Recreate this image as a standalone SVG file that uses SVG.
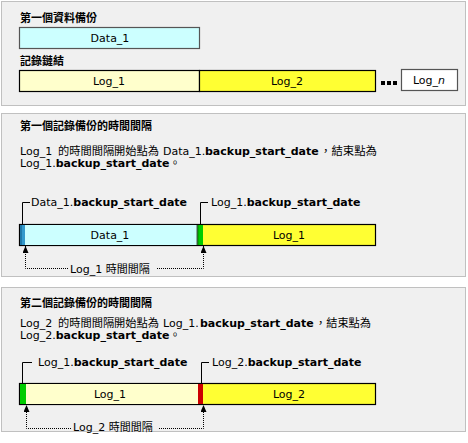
<svg xmlns="http://www.w3.org/2000/svg" width="468" height="443" viewBox="0 0 468 443">
<style>
text{font-family:"DejaVu Sans","Noto Sans CJK TC",sans-serif;font-size:11px;fill:#000}
.b{font-weight:bold}
.c{text-anchor:middle}
.panel{fill:#f0f0f0;stroke:#c0c0c0;stroke-width:1}
.box{stroke:#000;stroke-width:1.2}
.brk{fill:none;stroke:#000;stroke-width:1}
.dot{fill:none;stroke:#000;stroke-width:1;stroke-dasharray:1 1}
</style>
<defs>
<marker id="ah" viewBox="0 0 7 6" refX="7" refY="3" markerWidth="7" markerHeight="6" markerUnits="userSpaceOnUse" orient="auto">
<path d="M0,0 L7,3 L0,6 Z" fill="#000"/>
</marker>
</defs>
<rect class="panel" x="1.5" y="1.5" width="464" height="104"/>
<rect class="panel" x="1.5" y="113.5" width="464" height="163"/>
<rect class="panel" x="1.5" y="287.5" width="464" height="144"/>

<g id="panel1">
<text class="b" x="20" y="22">第一個資料備份</text>
<text class="b" x="20" y="65">記錄鏈結</text>
<g id="p1-data1"><rect x="19.5" y="27.5" width="180" height="21" fill="#ccffff" stroke="#555" stroke-width="1.2"/><text class="c" x="110" y="42">Data_1</text></g>
<g id="p1-log1"><rect class="box" x="19.5" y="70.5" width="180" height="21" fill="#ffffcc"/><text class="c" x="109" y="85">Log_1</text></g>
<g id="p1-log2"><rect class="box" x="199.5" y="70.5" width="176" height="21" fill="#ffff33"/><text class="c" x="287" y="85">Log_2</text></g>
<g id="p1-dots" fill="#000"><rect x="381" y="81" width="4" height="4"/><rect x="387" y="81" width="4" height="4"/><rect x="393" y="81" width="4" height="4"/></g>
<g id="p1-logn"><rect x="401.5" y="69.5" width="56" height="21" fill="#fff" stroke="#555" stroke-width="1.2"/><text class="c" x="429" y="84">Log_<tspan font-style="italic">n</tspan></text></g>
</g>

<g id="panel2">
<text class="b" x="20" y="130">第一個記錄備份的時間間隔</text>
<text y="155"><tspan x="20">Log_1</tspan><tspan x="58" textLength="101" lengthAdjust="spacingAndGlyphs">的時間間隔開始點為</tspan><tspan x="163">Data_1.</tspan><tspan class="b" x="205">backup_start_date</tspan><tspan x="320" textLength="57" lengthAdjust="spacingAndGlyphs">，結束點為</tspan></text>
<text x="20" y="167">Log_1.<tspan class="b">backup_start_date</tspan>。</text>
<text x="31" y="206">Data_1.<tspan class="b">backup_start_date</tspan></text>
<text x="211" y="206">Log_1.<tspan class="b">backup_start_date</tspan></text>
<g id="p2-bar">
<rect x="19.5" y="224.5" width="356" height="21" fill="#ffff33" stroke="#000" stroke-width="1.2"/>
<rect x="20" y="225" width="177" height="20" fill="#ccffff"/>
<rect x="20" y="225" width="5" height="20" fill="#3399cc"/>
<rect x="20" y="225" width="2" height="20" fill="#1f78a8"/>
<rect x="197" y="225" width="6" height="20" fill="#00cc00"/>
<rect x="197" y="225" width="1.5" height="20" fill="#008800"/>
<line x1="197" y1="225" x2="197" y2="245" stroke="#555"/>
<text class="c" x="110" y="239">Data_1</text>
<text class="c" x="289" y="239">Log_1</text>
</g>
<text x="70" y="273">Log_1 時間間隔</text>
</g>

<g id="panel3">
<text class="b" x="20" y="307">第二個記錄備份的時間間隔</text>
<text y="327"><tspan x="20">Log_2</tspan><tspan x="58" textLength="101" lengthAdjust="spacingAndGlyphs">的時間間隔開始點為</tspan><tspan x="163">Log_1.</tspan><tspan class="b" x="200">backup_start_date</tspan><tspan x="315" textLength="56" lengthAdjust="spacingAndGlyphs">，結束點為</tspan></text>
<text x="20" y="339">Log_2.<tspan class="b">backup_start_date</tspan>。</text>
<text x="38" y="366">Log_1.<tspan class="b">backup_start_date</tspan></text>
<text x="212" y="366">Log_2.<tspan class="b">backup_start_date</tspan></text>
<g id="p3-bar">
<rect x="19.5" y="383.5" width="356" height="21" fill="#ffff33" stroke="#000" stroke-width="1.2"/>
<rect x="20" y="384" width="178" height="20" fill="#ffffcc"/>
<rect x="20" y="384" width="6" height="20" fill="#00cc00"/>
<rect x="198" y="384" width="5" height="20" fill="#cc0000"/>
<text class="c" x="110" y="398">Log_1</text>
<text class="c" x="289" y="398">Log_2</text>
</g>
<text x="73" y="431">Log_2 時間間隔</text>
</g>

<g id="connectors">
<path class="brk" d="M30,202.5 H22.5 V224"/>
<path class="brk" d="M208,202.5 H200.5 V224"/>
<path class="dot" d="M68,268.5 H25.5 V246" marker-end="url(#ah)"/>
<path class="dot" d="M157,268.5 H203.5 V246" marker-end="url(#ah)"/>
<path class="brk" d="M32,362.5 H22.5 V383"/>
<path class="brk" d="M209,362.5 H201.5 V383"/>
<path class="dot" d="M71,428.5 H26.5 V405" marker-end="url(#ah)"/>
<path class="dot" d="M159,428.5 H203.5 V405" marker-end="url(#ah)"/>
</g>
</svg>
